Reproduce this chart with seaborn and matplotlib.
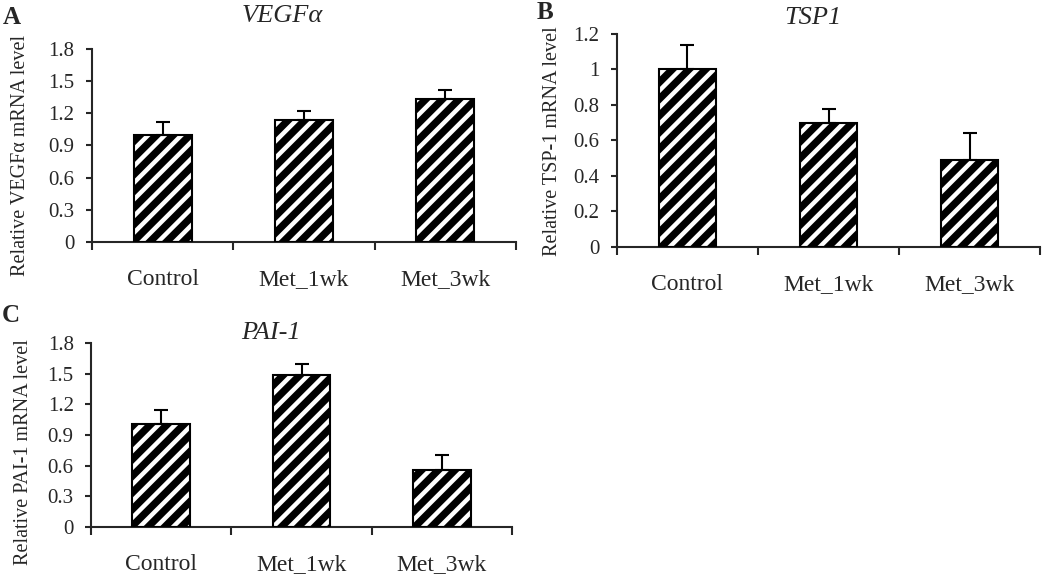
"""
Relative mRNA levels of VEGFa, TSP1 and PAI-1 after metformin treatment
Three hatched bar panels (A, B, C) with upper error bars
"""

import pandas as pd
import matplotlib.pyplot as plt
import seaborn as sns
from matplotlib.patches import Rectangle
from matplotlib.ticker import FormatStrFormatter

# Set style
sns.set_style("ticks")
plt.rcParams['font.family'] = ['Liberation Serif', 'DejaVu Serif']
plt.rcParams['hatch.linewidth'] = 3.2

# Data
groups = ['Control', 'Met_1wk', 'Met_3wk']

vegf_mean = [1.00, 1.14, 1.33]
vegf_err = [0.12, 0.085, 0.09]

tsp1_mean = [1.00, 0.70, 0.49]
tsp1_err = [0.14, 0.08, 0.155]

pai1_mean = [1.01, 1.49, 0.56]
pai1_err = [0.14, 0.105, 0.14]

vegf_ticks = [0, 0.3, 0.6, 0.9, 1.2, 1.5, 1.8]
tsp1_ticks = [0, 0.2, 0.4, 0.6, 0.8, 1.0, 1.2]
pai1_ticks = [0, 0.3, 0.6, 0.9, 1.2, 1.5, 1.8]


def draw_panel(ax, means, errs, yticks, ylabel, label_xy):
    df = pd.DataFrame({'group': groups, 'value': means})
    sns.barplot(data=df, x='group', y='value', color='black', saturation=1,
                width=0.41, errorbar=None, ax=ax)

    # black bars with white diagonal stripes and a black outline
    for p in list(ax.patches):
        p.set_hatch('//')
        p.set_edgecolor('white')
        p.set_linewidth(0)
        ax.add_patch(Rectangle(p.get_xy(), p.get_width(), p.get_height(),
                               fill=False, edgecolor='black', linewidth=1.5, zorder=3))

    ax.errorbar(range(len(groups)), means, yerr=[[0] * len(errs), errs],
                fmt='none', ecolor='black', elinewidth=1.5, capsize=4.7,
                capthick=1.5, zorder=2)

    ax.set_xlim(-0.5, 2.5)
    ax.set_ylim(0, yticks[-1])
    ax.set_yticks(yticks)
    ax.yaxis.set_major_formatter(FormatStrFormatter('%g'))
    ax.set_xticks([-0.5, 0.5, 1.5, 2.5], minor=True)

    sns.despine(ax=ax)
    for s in ['left', 'bottom']:
        ax.spines[s].set_linewidth(1.5)

    ax.tick_params(axis='y', direction='out', length=4.5, width=1.5,
                   labelsize=15, pad=8)
    ax.tick_params(axis='x', which='major', length=0, labelsize=17, pad=19.5)
    ax.tick_params(axis='x', which='minor', direction='out', length=6, width=1.5)

    ax.set_xlabel('')
    ax.set_ylabel(ylabel, fontsize=14.5)
    ax.yaxis.set_label_coords(*label_xy)


fig = plt.figure(figsize=(10.5, 5.85), dpi=100)

ax_a = fig.add_axes([0.0876, 0.5863, 0.4038, 0.3300])
ax_b = fig.add_axes([0.5876, 0.5778, 0.4029, 0.3641])
ax_c = fig.add_axes([0.0867, 0.0997, 0.4010, 0.3135])

draw_panel(ax_a, vegf_mean, vegf_err, vegf_ticks,
           'Relative VEGF\u03b1 mRNA level', (-0.146, 0.451))
draw_panel(ax_b, tsp1_mean, tsp1_err, tsp1_ticks,
           'Relative TSP-1 mRNA level', (-0.130, 0.498))
draw_panel(ax_c, pai1_mean, pai1_err, pai1_ticks,
           'Relative PAI-1 mRNA level', (-0.138, 0.409))

# gene titles (italic) and panel letters
fig.text(282 / 1050, 1 - 16 / 585, 'VEGF\u03b1', style='italic', fontsize=19,
         ha='center', va='center')
fig.text(813 / 1050, 1 - 18 / 585, 'TSP1', style='italic', fontsize=19,
         ha='center', va='center')
fig.text(271 / 1050, 1 - 333 / 585, 'PAI-1', style='italic', fontsize=19,
         ha='center', va='center')

fig.text(3 / 1050, 1 - 18 / 585, 'A', fontweight='bold', fontsize=18,
         ha='left', va='center')
fig.text(537 / 1050, 1 - 1 / 585, 'B', fontweight='bold', fontsize=18,
         ha='left', va='top')
fig.text(2 / 1050, 1 - 315 / 585, 'C', fontweight='bold', fontsize=18,
         ha='left', va='center')

plt.savefig('out.png', dpi=100)
plt.close()
